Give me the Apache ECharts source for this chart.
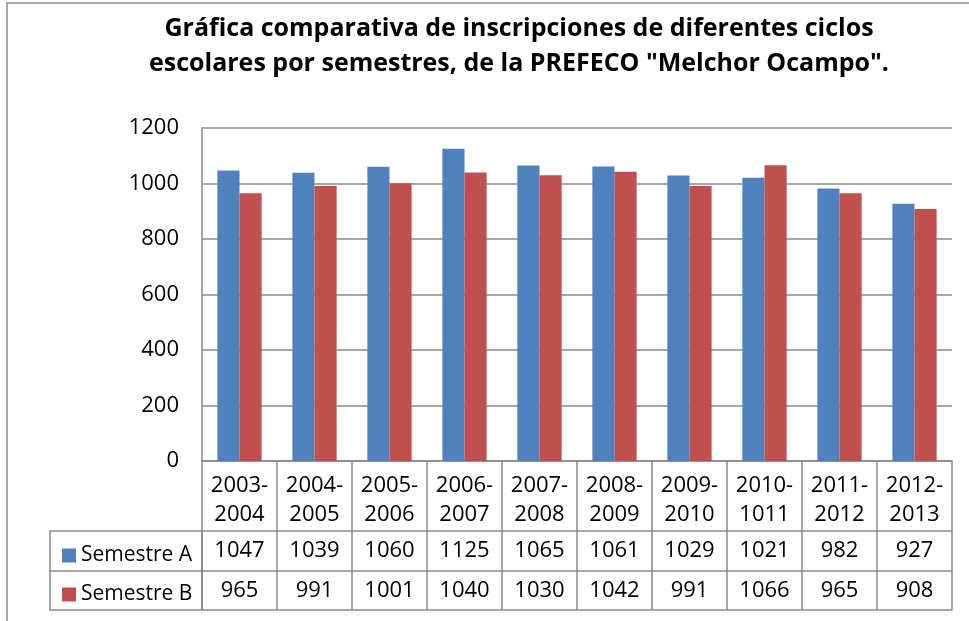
<!DOCTYPE html>
<html>
<head>
<meta charset="utf-8">
<script src="https://cdn.jsdelivr.net/npm/echarts@6/dist/echarts.min.js"></script>
<style>
  html, body { margin: 0; padding: 0; background: #fff; }
  #chart { width: 969px; height: 621px; }
</style>
</head>
<body>
<div id="chart"></div>
<script>
// ciclos escolares y valores por semestre
const ciclos = ['2003-\n2004', '2004-\n2005', '2005-\n2006', '2006-\n2007', '2007-\n2008',
  '2008-\n2009', '2009-\n2010', '2010-\n1011', '2011-\n2012', '2012-\n2013'];
const semestreA = [1047, 1039, 1060, 1125, 1065, 1061, 1029, 1021, 982, 927];
const semestreB = [965, 991, 1001, 1040, 1030, 1042, 991, 1066, 965, 908];
const yTicks = { min: 0, max: 1200, step: 200 };
const titulo = ['Gráfica comparativa de inscripciones de diferentes ciclos',
  'escolares por semestres, de la PREFECO "Melchor Ocampo".'];

const font = '"Open Sans", "Liberation Sans", sans-serif';
const gris = '#8a8a8a';

var myChart = echarts.init(document.getElementById('chart'));

// filas de la tabla de datos: cada fila es un eje x extra
function filaTabla(values, offset, showLabel){
  return {
    type: 'category',
    position: 'bottom',
    offset: offset,
    data: values.map(String),
    axisLine: { show: true, lineStyle: { color: gris, width: 1.5 } },
    axisTick: { show: false },
    axisLabel: {
      show: showLabel,
      color: '#000',
      fontFamily: font,
      fontSize: 22,
      margin: 20,
      verticalAlign: 'middle',
      interval: 0
    }
  };
}

myChart.setOption({
  animation: false,
  backgroundColor: '#fff',
  textStyle: { fontFamily: font },
  graphic: [
    { type: 'rect', shape: { x: 7, y: 3, width: 1000, height: 700 },
      style: { fill: 'none', stroke: gris, lineWidth: 1.5 }, silent: true },
    { type: 'text', x: 519, y: 29,
      style: { text: titulo[0], font: 'bold 25px ' + font, fill: '#000', textAlign: 'center', textVerticalAlign: 'middle' } },
    { type: 'text', x: 519, y: 64,
      style: { text: titulo[1], font: 'bold 25px ' + font, fill: '#000', textAlign: 'center', textVerticalAlign: 'middle' } },
    // columna de leyenda de la tabla
    { type: 'rect', shape: { x: 50, y: 531, width: 152, height: 79 },
      style: { fill: 'none', stroke: gris, lineWidth: 1.5 }, silent: true },
    { type: 'line', shape: { x1: 50, y1: 571, x2: 202, y2: 571 },
      style: { stroke: gris, lineWidth: 1.5 }, silent: true }
  ],
  legend: [
    { data: ['Semestre A'], orient: 'vertical', left: 57, top: 540,
      itemWidth: 14, itemHeight: 14, itemGap: 0, icon: 'rect',
      textStyle: { fontSize: 21, color: '#000', fontFamily: font } },
    { data: ['Semestre B'], orient: 'vertical', left: 57, top: 579,
      itemWidth: 14, itemHeight: 14, itemGap: 0, icon: 'rect',
      textStyle: { fontSize: 21, color: '#000', fontFamily: font } }
  ],
  grid: { left: 202, right: 17, top: 128, bottom: 160, containLabel: false },
  xAxis: [
    {
      type: 'category',
      data: ciclos,
      axisLine: { show: true, lineStyle: { color: gris, width: 1.5 } },
      axisTick: { show: true, length: 149, lineStyle: { color: gris, width: 1.5 } },
      axisLabel: {
        color: '#000',
        fontFamily: font,
        fontSize: 22,
        lineHeight: 29,
        margin: 10,
        interval: 0
      }
    },
    filaTabla(semestreA, 70, true),
    filaTabla(semestreB, 110, true),
    filaTabla(semestreB, 149, false)
  ],
  yAxis: {
    type: 'value',
    min: yTicks.min,
    max: yTicks.max,
    interval: yTicks.step,
    axisLine: { show: true, lineStyle: { color: gris, width: 1.5 } },
    axisTick: { show: false },
    axisLabel: { color: '#000', fontFamily: font, fontSize: 22, margin: 23,
      formatter: function(v){ return String(v); } },
    splitLine: { lineStyle: { color: gris, width: 1.5 } }
  },
  series: [
    {
      name: 'Semestre A',
      type: 'bar',
      data: semestreA,
      barGap: '0%',
      barCategoryGap: '41%',
      itemStyle: { color: '#4F81BD' }
    },
    {
      name: 'Semestre B',
      type: 'bar',
      data: semestreB,
      itemStyle: { color: '#C0504D' }
    }
  ]
});
</script>
</body>
</html>
